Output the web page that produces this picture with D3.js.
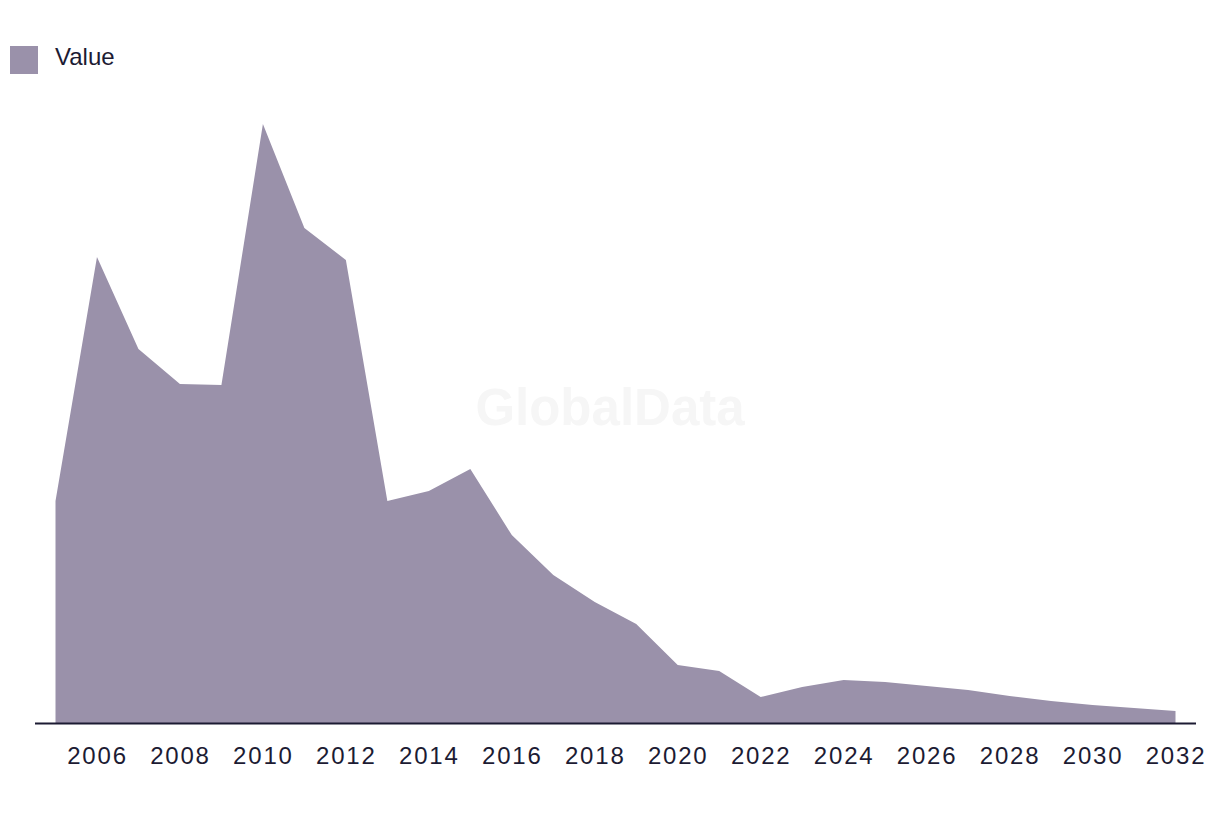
<!DOCTYPE html>
<html>
<head>
<meta charset="utf-8">
<script src="https://cdn.jsdelivr.net/npm/d3@7"></script>
<style>
  html, body { margin: 0; padding: 0; background: #ffffff; }
  svg { display: block; }
</style>
</head>
<body>
<svg id="chart" width="1220" height="814"></svg>
<script>
const years = [2005,2006,2007,2008,2009,2010,2011,2012,2013,2014,2015,2016,2017,2018,2019,2020,2021,2022,2023,2024,2025,2026,2027,2028,2029,2030,2031,2032];
const values = [22.2,46.6,37.4,33.9,33.8,59.9,49.5,46.3,22.2,23.2,25.4,18.8,14.8,12.1,9.9,5.8,5.2,2.6,3.6,4.3,4.1,3.7,3.3,2.7,2.2,1.8,1.5,1.2];
const tickYears = [2006,2008,2010,2012,2014,2016,2018,2020,2022,2024,2026,2028,2030,2032];
const seriesName = "Value";

const svg = d3.select("#chart");
const textColor = "#1c1b33";
const areaColor = "#9a91aa";

const x = d3.scaleLinear().domain([2005, 2032]).range([55.5, 1175.5]);
const y = d3.scaleLinear().domain([0, 59.9]).range([723, 124]);

// watermark
svg.append("text")
  .attr("x", 610).attr("y", 425)
  .attr("text-anchor", "middle")
  .attr("font-family", "Liberation Sans, Arial, sans-serif")
  .attr("font-weight", "bold")
  .attr("font-size", 51)
  .attr("fill", "#f6f6f6")
  .text("GlobalData");

const data = years.map((yr, i) => ({ yr, v: values[i] }));

const area = d3.area()
  .x(d => x(d.yr))
  .y0(y(0))
  .y1(d => y(d.v));

svg.append("path")
  .datum(data)
  .attr("d", area)
  .attr("fill", areaColor);

// baseline
svg.append("line")
  .attr("x1", 35).attr("x2", 1196)
  .attr("y1", 723.5).attr("y2", 723.5)
  .attr("stroke", textColor)
  .attr("stroke-width", 2);

// x axis labels
const axis = d3.axisBottom(x)
  .tickValues(tickYears)
  .tickFormat(d3.format("d"))
  .tickSize(0)
  .tickPadding(0);

const gx = svg.append("g")
  .attr("transform", "translate(0,745)")
  .call(axis);
gx.select(".domain").remove();
gx.selectAll("text")
  .attr("font-family", "Liberation Sans, Arial, sans-serif")
  .attr("font-size", 24)
  .attr("letter-spacing", "1.8px")
  .attr("fill", textColor)
  .attr("dy", "0.8em");

// legend
svg.append("rect")
  .attr("x", 10).attr("y", 46)
  .attr("width", 28).attr("height", 28)
  .attr("fill", areaColor);
svg.append("text")
  .attr("x", 55).attr("y", 65)
  .attr("font-family", "Liberation Sans, Arial, sans-serif")
  .attr("font-size", 24)
  .attr("fill", textColor)
  .text(seriesName);
</script>
</body>
</html>
